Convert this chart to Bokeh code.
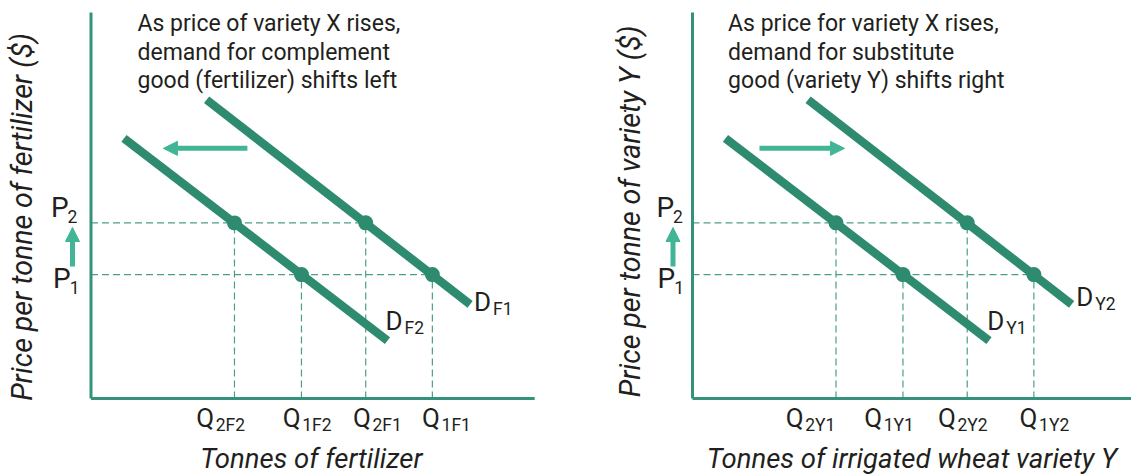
from bokeh.plotting import figure
from bokeh.layouts import row
from bokeh.models import Range1d, Arrow, NormalHead
from bokeh.core.properties import value
from bokeh.embed import file_html
from bokeh.resources import INLINE
import math

# ---------------- data ----------------
q_values = [4.22, 6.19, 8.08, 10.04]          # Q2(old) Q1(old) Q2(new) Q1(new)
p_values = [3.21, 4.55]                        # P1, P2
p_labels = ["1", "2"]

left_q_subs = ["2F2", "1F2", "2F1", "1F1"]
right_q_subs = ["2Y1", "1Y1", "2Y2", "1Y2"]

# demand curves (quantity, price endpoints)
curve_low_q = [0.97, 8.72]
curve_low_p = [6.74, 1.50]
curve_high_q = [3.40, 11.15]
curve_high_p = [7.74, 2.44]

# equilibrium points
pt_q = [4.22, 6.19, 8.08, 10.04]
pt_p = [4.55, 3.21, 4.55, 3.21]

left_shift_arrow = [4.60, 2.13]    # quantity from -> to
right_shift_arrow = [1.97, 4.47]
shift_arrow_p = 6.48
price_arrow = [3.42, 4.43]          # price from -> to

axis_max_q = 13.05
axis_max_p = 10.0

left_note = ["As price of variety X rises,",
             "demand for complement",
             "good (fertilizer) shifts left"]
right_note = ["As price for variety X rises,",
              "demand for substitute",
              "good (variety Y) shifts right"]

left_xlabel = "Tonnes of fertilizer"
left_ylabel = "Price per tonne of fertilizer ($)"
right_xlabel = "Tonnes of irrigated wheat variety Y"
right_ylabel = "Price per tonne of variety Y ($)"

left_d = [("D", "F1"), ("D", "F2")]    # high curve, low curve
right_d = [("D", "Y2"), ("D", "Y1")]

# ---------------- style / layout ----------------
PX = 34.0     # px per quantity unit
PY = 38.6     # px per price unit
H = 476
FONT = "Roboto"
C_LINE = "#2e8b6f"
C_ARROW = "#41b596"
C_AXIS = "#35927a"
C_DASH = "#4a9f86"
C_TEXT = "#231f20"
K_BASE = 0.36   # baseline correction (em) for the renderer


def dx(px):
    return px / PX


def dy(px):   # px downward on screen -> data
    return -px / PY


def txt(p, x, y, s, fs, rotated=False, **kw):
    if rotated:
        x = x - K_BASE * fs / PX
    else:
        y = y + K_BASE * fs / PY
    p.text([x], [y], text=[s], text_font_size=f"{fs}px", text_font=value(FONT),
           text_color=C_TEXT, text_baseline="alphabetic", **kw)


def panel(width, origin_x, origin_y, q_subs, note, note_dx, xlabel, xlabel_dx,
          ylabel, ylabel_dx, ylabel_cy, dlabels, d_offsets, q_label_dx, p_off,
          shift_arrow, parrow_dx, axis_to_edge):
    p = figure(width=width, height=H, output_backend="svg", toolbar_location=None,
               x_axis_location=None, y_axis_location=None, min_border=0,
               x_range=Range1d(-origin_x / PX, (width - origin_x) / PX),
               y_range=Range1d(-(H - origin_y) / PY, origin_y / PY))
    p.outline_line_color = None
    p.grid.visible = False
    p.background_fill_color = "white"
    p.border_fill_color = "white"

    # dashed guide lines
    for q, pp in zip(pt_q, pt_p):
        p.line([q, q], [0, pp], line_color=C_DASH, line_width=1.2, line_dash="7 4")
    p.line([0, pt_q[2]], [p_values[1], p_values[1]], line_color=C_DASH, line_width=1.2, line_dash="7 4")
    p.line([0, pt_q[3]], [p_values[0], p_values[0]], line_color=C_DASH, line_width=1.2, line_dash="7 4")

    # axes
    x_end = p.x_range.end if axis_to_edge else axis_max_q
    p.line([0, x_end], [0, 0], line_color=C_AXIS, line_width=3)
    p.line([0, 0], [0, axis_max_p], line_color=C_AXIS, line_width=3)

    # demand curves
    p.line(curve_low_q, curve_low_p, line_color=C_LINE, line_width=8.5)
    p.line(curve_high_q, curve_high_p, line_color=C_LINE, line_width=8.5)
    p.scatter(pt_q, pt_p, size=15, fill_color=C_LINE, line_color=None)

    # shift arrow
    p.add_layout(Arrow(x_start=shift_arrow[0], y_start=shift_arrow_p,
                       x_end=shift_arrow[1], y_end=shift_arrow_p,
                       line_color=C_ARROW, line_width=5,
                       end=NormalHead(size=14, fill_color=C_ARROW, line_color=C_ARROW, line_width=1)))
    # price arrow
    ax = dx(parrow_dx)
    p.add_layout(Arrow(x_start=ax, y_start=price_arrow[0], x_end=ax, y_end=price_arrow[1],
                       line_color=C_ARROW, line_width=5,
                       end=NormalHead(size=14, fill_color=C_ARROW, line_color=C_ARROW, line_width=1)))

    # note text
    note_y = [31.7, 60.2, 88.7]
    for line, ny in zip(note, note_y):
        txt(p, dx(note_dx), (origin_y - ny) / PY, line, 23, text_align="left")

    # P labels: (P anchor dx, sub dx, P baseline dy, sub baseline dy)
    for pv, lab, (pdx, sdx, bdy, sbdy) in zip(p_values, p_labels, p_off):
        txt(p, dx(pdx), pv + dy(bdy), "P", 28, text_align="left")
        txt(p, dx(pdx + sdx), pv + dy(sbdy), lab, 17.5, text_align="left")

    # Q labels
    for q, sub, off in zip(q_values, q_subs, q_label_dx):
        txt(p, q + dx(off), dy(28.5), "Q", 26, text_align="left")
        txt(p, q + dx(off + 19.5), dy(33), sub, 17.5, text_align="left")

    # D labels
    ends = [(curve_high_q[1], curve_high_p[1]), (curve_low_q[1], curve_low_p[1])]
    for (dq, dp), (ddx, ddy), (dl, ds) in zip(ends, d_offsets, dlabels):
        txt(p, dq + dx(ddx), dp + dy(ddy), dl, 26, text_align="left")
        txt(p, dq + dx(ddx + 19.0), dp + dy(ddy + 4), ds, 17.5, text_align="left")

    # axis titles
    txt(p, dx(xlabel_dx), dy(69.7), xlabel, 27.5, text_align="center", text_font_style="italic")
    txt(p, dx(ylabel_dx), (origin_y - ylabel_cy) / PY, ylabel, 28.5, rotated=True,
        text_align="center", text_font_style="italic", angle=math.pi / 2)
    return p


left = panel(588, 90.5, 398.0, left_q_subs, left_note, 46.5, left_xlabel, 220.3,
             left_ylabel, -58.5, 216.5, left_d, [(4.0, 7.0), (-2.0, -10.0)],
             [-38.3, -18.8, -12.8, -10.3],
             [(-38.0, 16.8, 14.0, 19.0), (-40.0, 16.4, -5.5, -0.5)],
             left_shift_arrow, -18.5, False)
right = panel(543, 104.0, 398.0, right_q_subs, right_note, 35.6, right_xlabel, 219.5,
              right_ylabel, -52.0, 211.0, right_d, [(4.6, 2.0), (-1.7, -10.0)],
              [-50.3, -38.8, -29.3, -14.3],
              [(-35.0, 16.8, 14.0, 19.0), (-36.0, 16.4, -5.5, -0.5)],
              right_shift_arrow, -19.5, True)

layout = row(left, right)
open("out.html", "w").write(file_html(layout, INLINE))
